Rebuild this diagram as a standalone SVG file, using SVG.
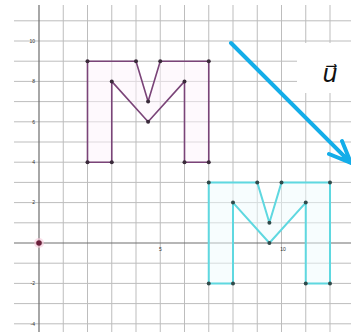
<svg xmlns="http://www.w3.org/2000/svg" width="351" height="332" viewBox="0 0 351 332">
<style>
.g{stroke:#bdbdbd;stroke-width:1;fill:none}
.ax{stroke:#6e6e6e;stroke-width:1.2;fill:none}
.tk{font-family:"Liberation Sans",Arial,sans-serif;font-size:5px;fill:#333}
.mp{fill:#fdf4fb;fill-opacity:0.5;stroke:#7a4478;stroke-width:1.6;stroke-linejoin:round}
.mc{fill:#f0fcfd;fill-opacity:0.5;stroke:#5fd8e0;stroke-width:2;stroke-linejoin:round}
.pp{fill:#3a2a3a}
.pc{fill:#2f4a4a}
.vec{stroke:#13ade9;stroke-width:4;fill:none;stroke-linecap:round;stroke-linejoin:round}
</style>
<rect width="351" height="332" fill="#ffffff"/>
<g id="grid">
<path class="g" d="M63.25 5V332M87.5 5V332M111.75 5V332M136 5V332M160.25 5V332M184.5 5V332M208.75 5V332M233 5V332M257.25 5V332M281.5 5V332M305.75 5V332M330 5V332"/>
<path class="g" d="M14 20.8H351M14 41H351M14 61.2H351M14 81.4H351M14 101.6H351M14 121.8H351M14 142H351M14 162.2H351M14 182.4H351M14 202.6H351M14 222.8H351M14 263.2H351M14 283.4H351M14 303.6H351M14 323.8H351"/>
<path class="ax" d="M39 5V332M14 243H351"/>
<text class="tk" x="35" y="42.8" text-anchor="end">10</text>
<text class="tk" x="35" y="83.2" text-anchor="end">8</text>
<text class="tk" x="35" y="123.6" text-anchor="end">6</text>
<text class="tk" x="35" y="164" text-anchor="end">4</text>
<text class="tk" x="35" y="204.4" text-anchor="end">2</text>
<text class="tk" x="35" y="285.2" text-anchor="end">-2</text>
<text class="tk" x="35" y="325.6" text-anchor="end">-4</text>
<text class="tk" x="160.5" y="251" text-anchor="middle">5</text>
<text class="tk" x="283" y="251" text-anchor="middle" fill="#c07080">10</text>
<circle cx="39" cy="243" r="5" fill="#f5c8d8" opacity="0.6"/>
<circle cx="39" cy="243" r="2.8" fill="#6a1f3a"/>
</g>
<g id="M1">
<polygon class="mp" points="87.5,162.2 87.5,61.2 136,61.2 148.1,101.6 160.25,61.2 208.75,61.2 208.75,162.2 184.5,162.2 184.5,81.4 148.1,121.8 111.75,81.4 111.75,162.2"/>
<g class="pp">
<circle cx="87.5" cy="162.2" r="2"/><circle cx="87.5" cy="61.2" r="2"/><circle cx="136" cy="61.2" r="2"/><circle cx="148.1" cy="101.6" r="2"/><circle cx="160.25" cy="61.2" r="2"/><circle cx="208.75" cy="61.2" r="2"/><circle cx="208.75" cy="162.2" r="2"/><circle cx="184.5" cy="162.2" r="2"/><circle cx="184.5" cy="81.4" r="2"/><circle cx="148.1" cy="121.8" r="2"/><circle cx="111.75" cy="81.4" r="2"/><circle cx="111.75" cy="162.2" r="2"/>
</g>
</g>
<g id="M2">
<polygon class="mc" points="208.75,283.4 208.75,182.4 257.25,182.4 269.4,222.8 281.5,182.4 330,182.4 330,283.4 305.75,283.4 305.75,202.6 269.4,243 233,202.6 233,283.4"/>
<g class="pc">
<circle cx="208.75" cy="283.4" r="2"/><circle cx="208.75" cy="182.4" r="2"/><circle cx="257.25" cy="182.4" r="2"/><circle cx="269.4" cy="222.8" r="2"/><circle cx="281.5" cy="182.4" r="2"/><circle cx="330" cy="182.4" r="2"/><circle cx="330" cy="283.4" r="2"/><circle cx="305.75" cy="283.4" r="2"/><circle cx="305.75" cy="202.6" r="2"/><circle cx="269.4" cy="243" r="2"/><circle cx="233" cy="202.6" r="2"/><circle cx="233" cy="283.4" r="2"/>
</g>
</g>
<g id="connectors">
<path class="vec" d="M231 43L351 163M329 154L351 163M342 141L351 163"/>
</g>
<g id="label">
<rect x="297" y="43" width="54" height="50" fill="#ffffff"/>
<text x="330" y="82" text-anchor="middle" font-family="'DejaVu Sans',sans-serif" font-style="italic" font-size="24" fill="#111">u⃗</text>
</g>
</svg>
